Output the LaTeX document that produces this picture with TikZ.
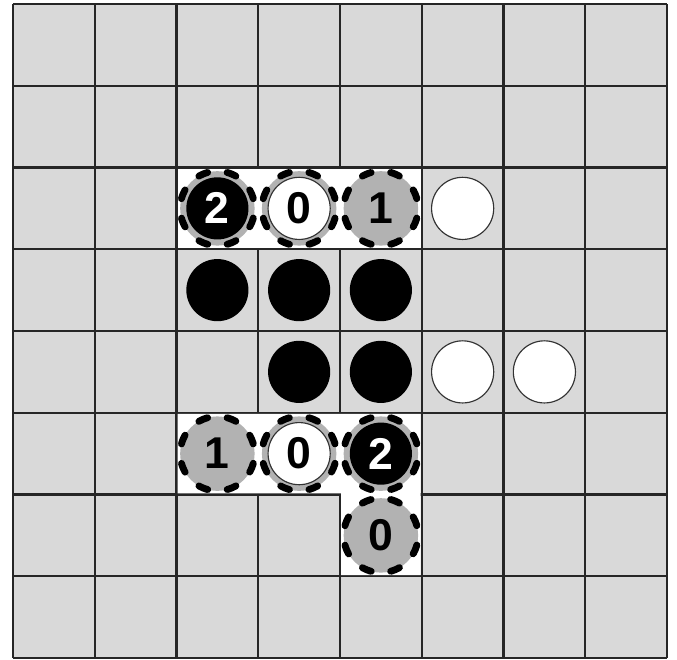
\documentclass[tikz,border=0pt]{standalone}
\usepackage{fontspec}
\newfontfamily\digitfont{Liberation Sans}
\begin{document}
\begin{tikzpicture}[
  board/.style={fill=black!15},
  gridline/.style={line width=0.8pt, black!85},
  hilite/.style={fill=white},
  ring/.style={circle, minimum size=9.1mm, inner sep=0pt, fill=black!30, draw=black,
    line width=2.4pt, line cap=round, dash pattern=on 3.3pt off 6.87pt, dash phase=6.74pt},
  digits/.style={font=\digitfont\fontsize{15.5}{16}\selectfont\bfseries},
  bstone/.style={circle, minimum size=7.6mm, inner sep=0pt, fill=black, text=white, digits},
  wstone/.style={circle, minimum size=7.6mm, inner sep=0pt, fill=white, draw=black!80,
    line width=0.4pt, text=black, digits}
]
  \useasboundingbox (-0.159,-0.012) rectangle (8.122,8.049);
  % Board
  \fill[board] (0,0) rectangle (8,8);
  \draw[gridline] (0,0) grid (8,8);
  % Highlighted cells
  \def\gap{0.014}
  \fill[hilite] (2+\gap,5+\gap) rectangle (5-\gap,6-\gap);
  \fill[hilite] (2+\gap,3-\gap) -- (5-\gap,3-\gap) -- (5-\gap,1+\gap) -- (4+\gap,1+\gap)
    -- (4+\gap,2+\gap) -- (2+\gap,2+\gap) -- cycle;
  % Marked points
  \node[ring] (m22) at (2.5,5.5) {};
  \node[ring] (m32) at (3.5,5.5) {};
  \node[ring, digits] (m42) at (4.5,5.5) {1};
  \node[ring, digits] (m25) at (2.5,2.5) {1};
  \node[ring] (m35) at (3.5,2.5) {};
  \node[ring] (m45) at (4.5,2.5) {};
  \node[ring, digits] (m46) at (4.5,1.5) {0};
  % Stones on marked points
  \node[bstone] (s22) at (m22) {2};
  \node[wstone] (s32) at (m32) {0};
  \node[wstone] (s35) at (m35) {0};
  \node[bstone] (s45) at (m45) {2};
  % Black stones
  \foreach \c/\r in {2/3, 3/3, 4/3, 3/4, 4/4}
    \node[bstone] (s\c\r) at (\c+0.5,7.5-\r) {};
  % White stones
  \foreach \c/\r in {5/2, 5/4, 6/4}
    \node[wstone] (s\c\r) at (\c+0.5,7.5-\r) {};
\end{tikzpicture}
\end{document}
